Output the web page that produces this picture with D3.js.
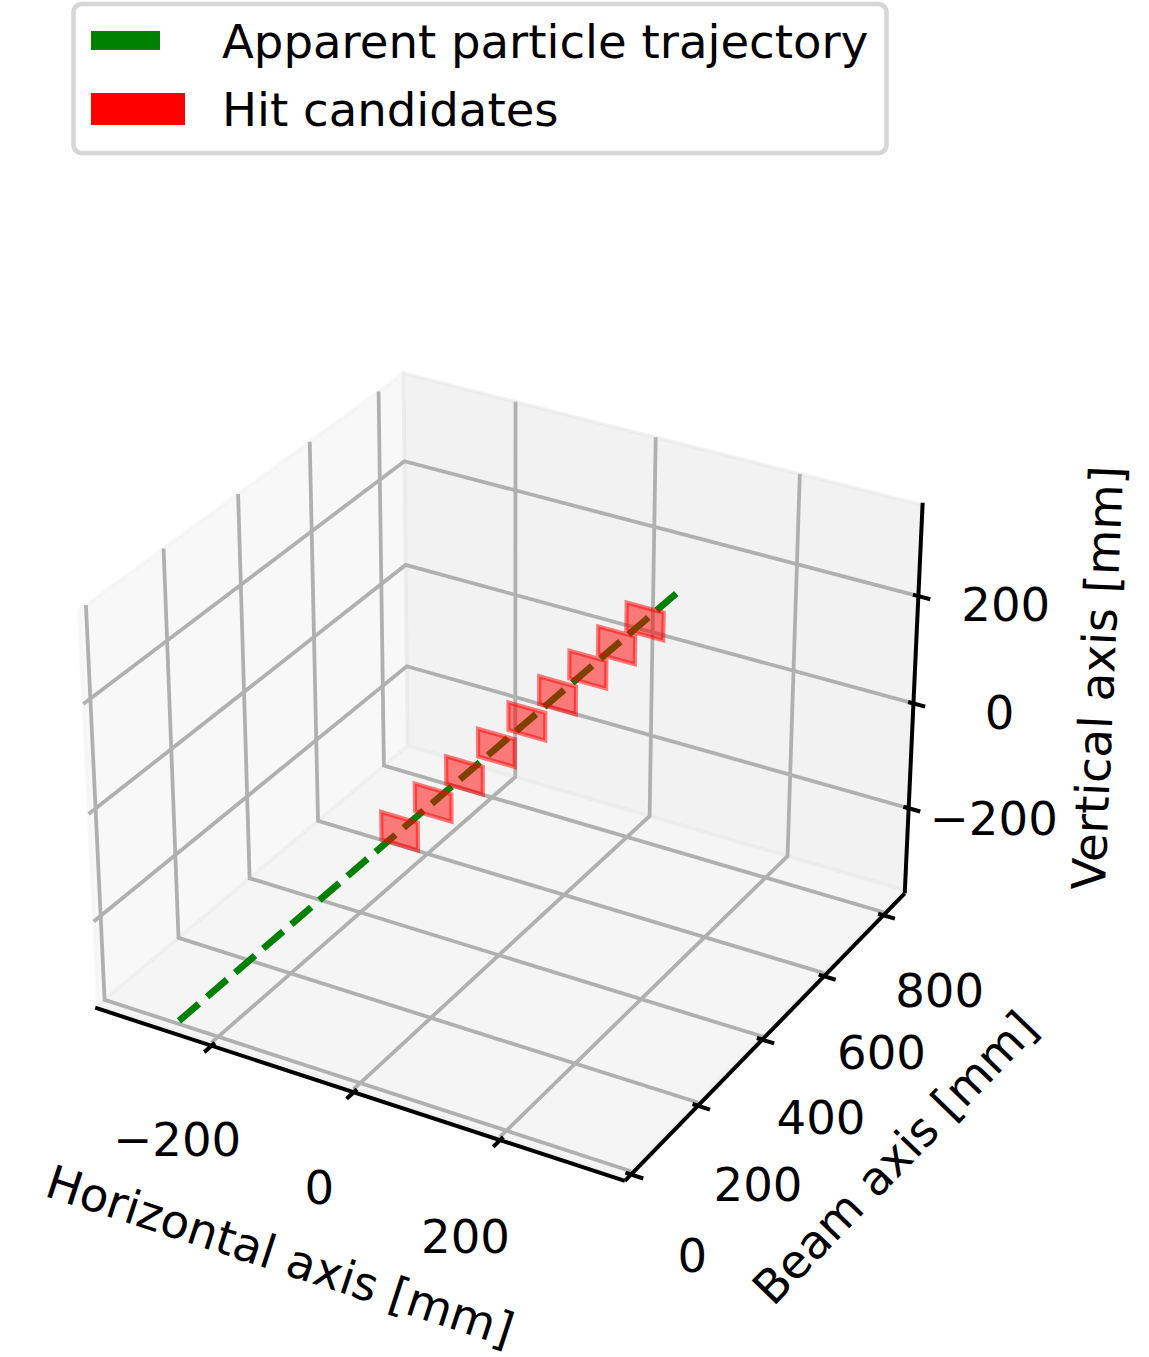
<!DOCTYPE html>
<html lang="en">
  <head>
    <meta charset="UTF-8" />
    <title>Apparent particle trajectory</title>
    <script src="https://cdnjs.cloudflare.com/ajax/libs/d3/7.8.5/d3.min.js"></script>
    <style>
      body {
        margin: 0;
        background: #fff;
      }
      text {
        font-family: "DejaVu Sans", sans-serif;
        font-size: 46.6px;
        fill: #000;
      }
    </style>
  </head>

  <body>
    <svg id="chart" width="1149" height="1357"></svg>
    <script>
      // values (mm)
      const xTicks = [-200, 0, 200];
      const yTicks = [0, 200, 400, 600, 800];
      const zTicks = [-200, 0, 200];
      const xLimits = [-364, 366];
      const yLimits = [-18, 874];
      const zLimits = [-360, 370];
      // top of the panes sits a bit under the scale's end
      const zTop = 366;

      const trackX = [-256, 67];
      const trackY = [0, 795];
      const trackZ = [-354, 138];

      const hitX = [-115, -93, -73, -52, -32, -12, 8, 27, 46];
      const hitY = [348, 401, 452, 503, 552, 602, 651, 698, 744];
      const hitZ = [-139, -106, -75, -43, -12, 18, 48, 76, 104];
      const hitHalfSize = 26;

      const legendLabels = ["Apparent particle trajectory", "Hit candidates"];

      const svg = d3.select("#chart");

      // data -> unit box
      const x = d3.scaleLinear().domain(xLimits).range([0, 1]);
      const y = d3.scaleLinear().domain(yLimits).range([0, 1]);
      const z = d3.scaleLinear().domain(zLimits).range([0, 1]);

      // projected plane -> page, same thing mplot3d does at elev 30, azim -60
      const screenX = d3.scaleLinear().domain([-0.1, 0.1]).range([1.6, 1016]);
      const screenY = d3.scaleLinear().domain([-0.1, 0.1]).range([1262.2, 247.8]);

      const boxW = 1.1905;
      const boxH = 0.8929;

      function project(px, py, pz) {
        const dx = (x(px) - 0.5) * boxW;
        const dy = (y(py) - 0.5) * boxW;
        const dz = (z(pz) - 0.5) * boxH;
        const xv = 0.866 * dx + 0.5 * dy;
        const yv = -0.25 * dx + 0.433 * dy + 0.866 * dz;
        const depth = 10 - (0.433 * dx - 0.75 * dy + 0.5 * dz);
        return [screenX(xv / depth), screenY(yv / depth)];
      }

      const line3d = d3
        .line()
        .x(d => project(d[0], d[1], d[2])[0])
        .y(d => project(d[0], d[1], d[2])[1]);

      const [x0, x1] = xLimits;
      const [y0, y1] = yLimits;
      const [z0, z1] = zLimits;

      // panes
      const panes = [
        { fill: "rgba(242,242,242,0.5)", pts: [[x0, y0, z0], [x0, y1, z0], [x0, y1, zTop], [x0, y0, zTop]] },
        { fill: "rgba(230,230,230,0.5)", pts: [[x0, y1, z0], [x1, y1, z0], [x1, y1, zTop], [x0, y1, zTop]] },
        { fill: "rgba(236,236,236,0.5)", pts: [[x0, y0, z0], [x1, y0, z0], [x1, y1, z0], [x0, y1, z0]] }
      ];
      svg
        .selectAll(".pane")
        .data(panes)
        .join("path")
        .attr("class", "pane")
        .attr("d", d => line3d(d.pts) + "Z")
        .attr("fill", d => d.fill)
        .attr("stroke", d => d.fill)
        .attr("stroke-width", 3.6);

      // grid lines, each one runs over two panes
      const gridLines = [];
      xTicks.forEach(t => gridLines.push([[t, y0, z0], [t, y1, z0], [t, y1, zTop]]));
      yTicks.forEach(t => gridLines.push([[x1, t, z0], [x0, t, z0], [x0, t, zTop]]));
      zTicks.forEach(t => gridLines.push([[x0, y0, t], [x0, y1, t], [x1, y1, t]]));
      svg
        .selectAll(".grid")
        .data(gridLines)
        .join("path")
        .attr("class", "grid")
        .attr("d", line3d)
        .attr("fill", "none")
        .attr("stroke", "#b0b0b0")
        .attr("stroke-width", 3.8);

      // black axes hang slightly under the floor pane
      const zOut = 6;
      const axisLines = [
        [[x0 - 4, y0, z0 - zOut], [x1, y0, z0 - zOut]],
        [[x1, y0, z0 - zOut], [x1, y1, z0 - zOut]],
        [[x1, y1, z0 - zOut], [x1, y1, z1]]
      ];
      const tickOut = 0.022;
      const tickIn = 0.01;
      const xSpan = x1 - x0;
      const ySpan = y1 - y0;
      const tickLines = [];
      xTicks.forEach(t => tickLines.push([[t, y0 - ySpan * tickOut, z0 - zOut], [t, y0 + ySpan * tickIn, z0 - zOut]]));
      yTicks.forEach(t => tickLines.push([[x1 + xSpan * tickOut, t, z0 - zOut], [x1 - xSpan * tickIn, t, z0 - zOut]]));
      zTicks.forEach(t => tickLines.push([[x1 + xSpan * tickOut, y1, t], [x1 - xSpan * tickIn, y1, t]]));
      svg
        .selectAll(".axisline")
        .data(axisLines.concat(tickLines))
        .join("path")
        .attr("class", "axisline")
        .attr("d", line3d)
        .attr("fill", "none")
        .attr("stroke", "#000")
        .attr("stroke-width", 4);

      // trajectory goes under the hits, they tint it brown
      svg
        .append("path")
        .attr("d", line3d(trackX.map((v, i) => [v, trackY[i], trackZ[i]])))
        .attr("fill", "none")
        .attr("stroke", "#008000")
        .attr("stroke-width", 6.8)
        .attr("stroke-dasharray", "26.2 10.85");

      svg
        .selectAll(".hit")
        .data(hitX.map((v, i) => [v, hitY[i], hitZ[i]]))
        .join("path")
        .attr("class", "hit")
        .attr("d", d =>
          line3d([
            [d[0] - hitHalfSize, d[1], d[2] - hitHalfSize],
            [d[0] + hitHalfSize, d[1], d[2] - hitHalfSize],
            [d[0] + hitHalfSize, d[1], d[2] + hitHalfSize],
            [d[0] - hitHalfSize, d[1], d[2] + hitHalfSize]
          ]) + "Z"
        )
        .attr("fill", "rgba(255,0,0,0.5)")
        .attr("stroke", "rgba(255,0,0,0.5)")
        .attr("stroke-width", 4.2);

      // tick labels, set out from the axis in data space so perspective applies
      function fmt(v) {
        return String(v).replace("-", "\u2212");
      }

      function tickLabels(ticks, pos) {
        svg
          .append("g")
          .selectAll("text")
          .data(ticks)
          .join("text")
          .attr("x", d => project(...pos(d))[0])
          .attr("y", d => project(...pos(d))[1])
          .attr("text-anchor", "middle")
          .attr("dominant-baseline", "central")
          .text(fmt);
      }
      tickLabels(xTicks, t => [t, y0 - 98, z0 - 124]);
      tickLabels(yTicks, t => [x1 + 82, t, z0 - 120]);
      tickLabels(zTicks, t => [x1 + 116, y1, t + 26]);

      // axis titles
      const titles = [
        { label: "Horizontal axis [mm]", cx: 280, cy: 1256, rot: 18.1 },
        { label: "Beam axis [mm]", cx: 895, cy: 1158, rot: -46 },
        { label: "Vertical axis [mm]", cx: 1098, cy: 678, rot: -87.5 }
      ];
      svg
        .selectAll(".title")
        .data(titles)
        .join("text")
        .attr("class", "title")
        .attr("transform", d => `translate(${d.cx},${d.cy}) rotate(${d.rot})`)
        .attr("text-anchor", "middle")
        .attr("dominant-baseline", "central")
        .text(d => d.label);

      // legend
      const legend = svg.append("g");
      legend
        .append("rect")
        .attr("x", 73.5)
        .attr("y", 4)
        .attr("width", 813)
        .attr("height", 149)
        .attr("rx", 8)
        .attr("fill", "#fff")
        .attr("stroke", "#d6d6d6")
        .attr("stroke-width", 4.55);
      legend.append("rect").attr("x", 91).attr("y", 31).attr("width", 69).attr("height", 19).attr("fill", "#008000");
      legend.append("rect").attr("x", 91).attr("y", 93).attr("width", 94).attr("height", 32).attr("fill", "#ff0000");
      legend
        .selectAll("text")
        .data(legendLabels)
        .join("text")
        .attr("x", 222)
        .attr("y", (d, i) => 58 + i * 68)
        .text(d => d);
    </script>
  </body>
</html>
